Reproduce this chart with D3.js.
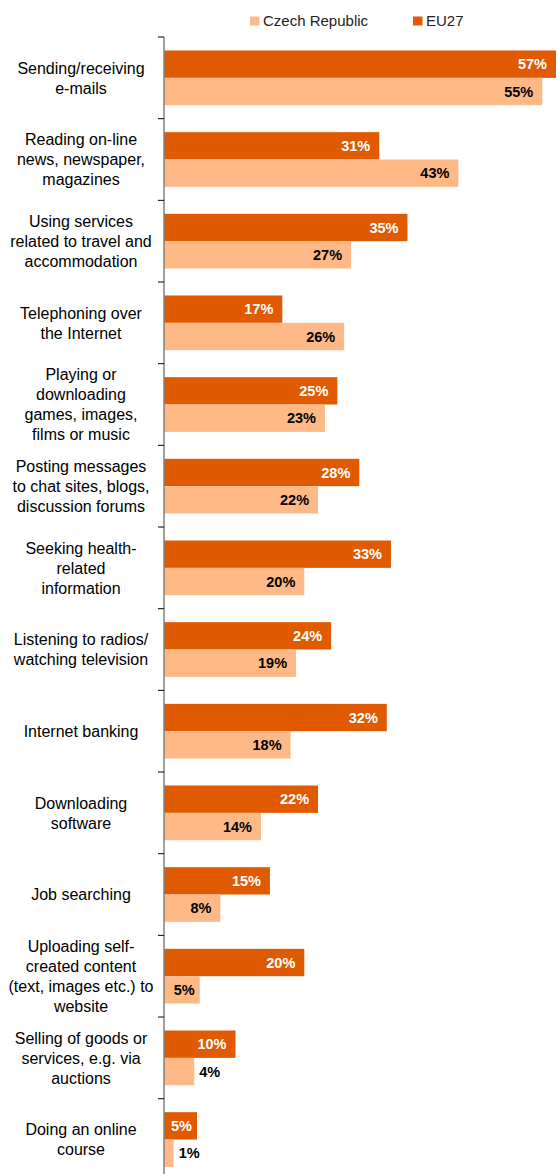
<!DOCTYPE html>
<html>
<head>
<meta charset="utf-8">
<script src="https://cdn.jsdelivr.net/npm/d3@7"></script>
<style>
  body { margin: 0; background: #fff; }
  svg { display: block; font-family: "Liberation Sans", Arial, sans-serif; }
</style>
</head>
<body>
<div id="chart"></div>
<script>
// categories, top to bottom
const categories = [
    "Sending/receiving|e-mails",
    "Reading on-line|news, newspaper,|magazines",
    "Using services|related to travel and|accommodation",
    "Telephoning over|the Internet",
    "Playing or|downloading|games, images,|films or music",
    "Posting messages|to chat sites, blogs,|discussion forums",
    "Seeking health-|related|information",
    "Listening to radios/|watching television",
    "Internet banking",
    "Downloading|software",
    "Job searching",
    "Uploading self-|created content|(text, images etc.) to|website",
    "Selling of goods or|services, e.g. via|auctions",
    "Doing an online|course"
];

// % of individuals
const eu27 = [57, 31.3, 35.4, 17.2, 25.2, 28.4, 33, 24.3, 32.4, 22.4, 15.4, 20.4, 10.4, 4.8];
const czech = [55, 42.8, 27.2, 26.2, 23.4, 22.4, 20.4, 19.2, 18.4, 14.1, 8.2, 5.2, 4.4, 1.4];

const seriesNames = ["EU27", "Czech Republic"];
const legendOrder = ["Czech Republic", "EU27"];
const colors = { "EU27": "#df5a00", "Czech Republic": "#ffb986" };

const width = 557, height = 1174;
const axisX = 164;
const plotTop = 37, step = 81.67;

const svg = d3.select("#chart").append("svg")
    .attr("width", width)
    .attr("height", height);

const data = categories.map((c, i) => ({ cat: c, "EU27": eu27[i], "Czech Republic": czech[i] }));

// scales
const x = d3.scaleLinear().domain([0, 57]).range([axisX, 556]);
const y = d3.scaleBand()
    .domain(categories)
    .range([plotTop, plotTop + step * categories.length])
    .paddingInner(0.33)
    .paddingOuter(0.165);
const ySub = d3.scaleBand().domain(seriesNames).range([0, y.bandwidth()]);

// bars
const groups = svg.selectAll("g.cat")
    .data(data)
    .enter().append("g")
    .attr("class", "cat")
    .attr("transform", d => `translate(0,${y(d.cat)})`);

groups.selectAll("rect")
    .data(d => seriesNames.map(s => ({ s: s, v: d[s] })))
    .enter().append("rect")
    .attr("x", x(0))
    .attr("y", d => ySub(d.s))
    .attr("width", d => x(d.v) - x(0))
    .attr("height", ySub.bandwidth())
    .attr("fill", d => colors[d.s]);

// value labels
groups.selectAll("text.val")
    .data(d => seriesNames.map(s => ({ s: s, v: d[s] })))
    .enter().append("text")
    .attr("class", "val")
    .attr("y", d => ySub(d.s) + ySub.bandwidth() / 2)
    .attr("dy", "0.36em")
    .attr("font-size", "14.5px")
    .attr("font-weight", "bold")
    .text(d => Math.round(d.v) + "%")
    .each(function(d) {
        const t = d3.select(this);
        const w = this.getComputedTextLength();
        const barW = x(d.v) - x(0);
        if (barW - 9 - w < 2) {
            t.attr("x", x(d.v) + 5).attr("text-anchor", "start").attr("fill", "#000");
        } else {
            const pad = barW - w < 16 ? 5 : 9;
            t.attr("x", x(d.v) - pad).attr("text-anchor", "end")
                .attr("fill", d.s === "EU27" ? "#fff" : "#000");
        }
    });

// category labels
const lineH = 20;
svg.selectAll("text.cat")
    .data(categories)
    .enter().append("text")
    .attr("class", "cat")
    .attr("text-anchor", "middle")
    .attr("font-size", "16px")
    .attr("fill", "#000")
    .each(function(c) {
        const lines = c.split("|");
        const cy = y(c) + y.bandwidth() / 2;
        const y0 = cy - (lines.length - 1) * lineH / 2;
        d3.select(this).selectAll("tspan")
            .data(lines)
            .enter().append("tspan")
            .attr("x", 81)
            .attr("y", (l, i) => y0 + i * lineH)
            .attr("dy", "0.36em")
            .text(l => l);
    });

// vertical axis with ticks between categories
const tickYs = d3.range(categories.length + 1).map(i => plotTop + i * step);
svg.append("line")
    .attr("x1", axisX).attr("x2", axisX)
    .attr("y1", plotTop).attr("y2", plotTop + step * categories.length)
    .attr("stroke", "#808080")
    .attr("stroke-width", 1.5);
svg.selectAll("line.tick")
    .data(tickYs)
    .enter().append("line")
    .attr("class", "tick")
    .attr("x1", axisX - 6).attr("x2", axisX)
    .attr("y1", d => d).attr("y2", d => d)
    .attr("stroke", "#000")
    .attr("stroke-width", 1);

// legend
const legendX = { "Czech Republic": 250, "EU27": 413 };
const legend = svg.selectAll("g.legend")
    .data(legendOrder)
    .enter().append("g")
    .attr("class", "legend")
    .attr("transform", d => `translate(${legendX[d]},0)`);
legend.append("rect")
    .attr("x", 0).attr("y", 16.5)
    .attr("width", 9.5).attr("height", 9)
    .attr("fill", d => colors[d]);
legend.append("text")
    .attr("x", 13).attr("y", 25.5)
    .attr("font-size", "15px")
    .attr("fill", "#222")
    .text(d => d);
</script>
</body>
</html>
